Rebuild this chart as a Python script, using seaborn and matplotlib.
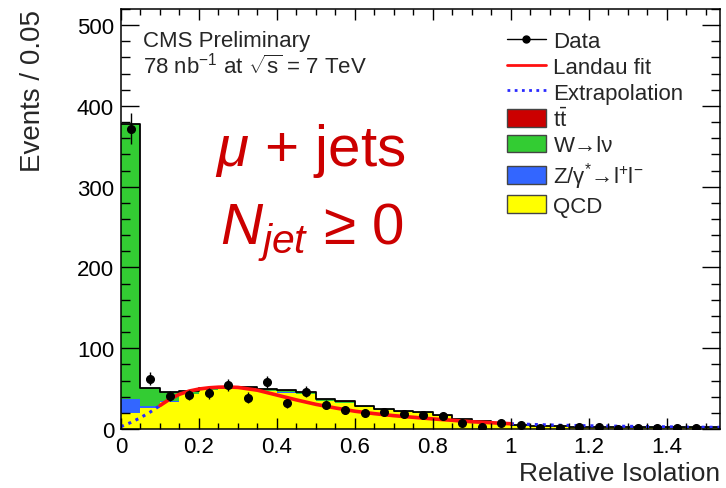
import numpy as np
import pandas as pd
import matplotlib
matplotlib.use("Agg")
import matplotlib.pyplot as plt
import seaborn as sns
from matplotlib.lines import Line2D
from matplotlib.patches import Patch
from matplotlib.ticker import MultipleLocator

# ---------------- data ----------------
bin_width = 0.05
bin_lo = [round(0.05 * i, 2) for i in range(31)]          # 0.00 ... 1.50
qcd = [20, 26, 33.5, 43, 48, 49, 49, 47, 45, 43, 35, 32, 27, 23, 20.5, 19.5,
       15.5, 10.8, 8.8, 7, 4, 3.3, 3.3, 2.4, 2.5, 2.5, 1.6, 1.6, 1.6, 1.6, 1.6]
zjets = [17, 2, 1, 0.5, 0.5, 0.3, 0.3, 0.3, 0.3, 0.3, 0.2, 0.2, 0.2, 0.2, 0.2, 0.2,
         0.2, 0.1, 0.1, 0.1, 0.1, 0.1, 0.1, 0.1, 0, 0, 0, 0, 0, 0, 0]
wjets = [341, 23, 11, 3, 2, 2, 2, 2, 2, 2, 1.5, 1.5, 1.5, 1.5, 1, 1, 1, 1, 1, 0.8,
         0.8, 0.6, 0.6, 0.5, 0.5, 0.5, 0.4, 0.4, 0.4, 0.4, 0.4]
ttbar = [0, 0, 0.2, 0.3, 0.4, 0.5, 0.5, 0.5, 0.5, 0.5, 0.4, 0.4, 0.3, 0.3, 0.3, 0.2,
         0.2, 0.1, 0.1, 0.1, 0.1, 0, 0, 0, 0, 0, 0, 0, 0, 0, 0]

data_x = [0.025, 0.075, 0.125, 0.175, 0.225, 0.275, 0.325, 0.375, 0.425, 0.475,
          0.525, 0.575, 0.625, 0.675, 0.725, 0.775, 0.825, 0.875, 0.925, 0.975,
          1.025, 1.075, 1.125, 1.175, 1.225, 1.275, 1.325, 1.375, 1.425, 1.475]
data_y = [372, 62, 41, 42, 44, 55, 39, 58, 32, 46, 30, 23, 20, 21, 18, 17, 16, 8,
          3, 8, 5, 1, 1, 2, 2, 0.5, 1, 1, 1.5, 1]
data_err = [19, 8, 6.4, 6.5, 6.6, 7.4, 6.2, 7.6, 5.7, 6.8, 5.5, 4.8, 4.5, 4.6, 4.2,
            4.1, 4, 2.8, 1.7, 2.8, 2.2, 1, 1, 1.4, 1.4, 0.7, 1, 1, 1.2, 1]

fit_x = [0.10, 0.125, 0.15, 0.175, 0.20, 0.225, 0.25, 0.275, 0.30, 0.35, 0.40, 0.45,
         0.50, 0.55, 0.60, 0.65, 0.70, 0.80, 0.90, 1.00]
fit_y = [29, 37, 43, 47, 49.5, 51, 51.8, 52, 51.5, 48, 42, 36, 30.5, 26, 22, 19,
         16.5, 12.5, 9, 6.5]
ext_lo_x = [0.0, 0.025, 0.05, 0.075, 0.10]
ext_lo_y = [3, 8, 14, 21, 29]
ext_hi_x = [1.0, 1.1, 1.2, 1.3, 1.4, 1.5, 1.54]
ext_hi_y = [6.5, 5, 4, 3.3, 2.7, 2.2, 2.1]

xtick_vals = [0, 0.2, 0.4, 0.6, 0.8, 1.0, 1.2, 1.4]
xtick_labels = ["0", "0.2", "0.4", "0.6", "0.8", "1", "1.2", "1.4"]
ytick_vals = [0, 100, 200, 300, 400, 500]

# ---------------- styling ----------------
sns.set_style("ticks")
plt.rcParams["font.family"] = ["Liberation Sans", "DejaVu Sans"]
plt.rcParams["mathtext.fontset"] = "custom"
plt.rcParams["mathtext.rm"] = "Liberation Sans"
plt.rcParams["mathtext.it"] = "Liberation Sans:italic"
plt.rcParams["mathtext.bf"] = "Liberation Sans:bold"
plt.rcParams["mathtext.sf"] = "Liberation Sans"

c_qcd, c_z, c_w, c_tt = "#ffff00", "#3366ff", "#33cc33", "#cc0000"

fig = plt.figure(figsize=(7.26, 4.89), dpi=100)
ax = fig.add_axes([121 / 726, 1 - 430 / 489, 599 / 726, 420 / 489])

# stacked MC histogram
rows = []
for name, vals in [("tt", ttbar), ("W", wjets), ("Z", zjets), ("QCD", qcd)]:
    for lo, v in zip(bin_lo, vals):
        rows.append({"x": lo + bin_width / 2, "w": v, "comp": name})
df = pd.DataFrame(rows)
edges = [round(0.05 * i, 2) for i in range(32)]
sns.histplot(data=df, x="x", weights="w", hue="comp",
             hue_order=["tt", "W", "Z", "QCD"], multiple="stack", bins=edges,
             element="bars", palette={"tt": c_tt, "W": c_w, "Z": c_z, "QCD": c_qcd},
             alpha=1, linewidth=0, legend=False, ax=ax)
# outline of total
tot = pd.DataFrame({"x": [lo + bin_width / 2 for lo in bin_lo],
                    "w": [a + b + c + d for a, b, c, d in zip(qcd, zjets, wjets, ttbar)]})
sns.histplot(data=tot, x="x", weights="w", bins=edges, element="step", fill=False,
             color="black", linewidth=1.3, ax=ax)

# fit and extrapolation
sns.lineplot(x=ext_lo_x, y=ext_lo_y, color="#2a2aff", linestyle=(0, (1, 1.6)),
             linewidth=2.2, ax=ax)
sns.lineplot(x=ext_hi_x, y=ext_hi_y, color="#2a2aff", linestyle=(0, (1, 1.6)),
             linewidth=2.2, ax=ax)
sns.lineplot(x=fit_x, y=fit_y, color="#ff1010", linewidth=2.6, ax=ax)

# data points
ax.errorbar(data_x, data_y, yerr=data_err, fmt="o", color="black", markersize=5.5,
            elinewidth=1.0, capsize=0, zorder=5)

# axes
ax.set_xlim(0, 1.536)
ax.set_ylim(0, 520)
ax.set_xticks(xtick_vals)
ax.set_xticklabels(xtick_labels)
ax.set_yticks(ytick_vals)
ax.xaxis.set_minor_locator(MultipleLocator(0.05))
ax.yaxis.set_minor_locator(MultipleLocator(20))
ax.tick_params(axis="both", which="both", direction="in", top=True, right=True,
               labelsize=16, width=1.0, colors="black", zorder=10)
ax.tick_params(axis="x", which="major", length=8, pad=5)
ax.tick_params(axis="x", which="minor", length=4)
ax.tick_params(axis="y", which="major", length=13, pad=5)
ax.tick_params(axis="y", which="minor", length=6.5)
for s in ax.spines.values():
    s.set_linewidth(1.1)
    s.set_color("black")
ax.set_axisbelow(False)
ax.set_xlabel("Relative Isolation", fontsize=19, loc="right", labelpad=3)
ax.set_ylabel("Events / 0.05", fontsize=20, loc="top", labelpad=22)

# texts
ax.text(0.037, 0.925, "CMS Preliminary", transform=ax.transAxes, fontsize=16,
        va="center", ha="left")
ax.text(0.037, 0.866, r"78 nb$^{-1}$ at $\sqrt{\mathrm{s}}$ = 7 TeV", transform=ax.transAxes,
        fontsize=16, va="center", ha="left")
ax.text(0.316, 0.665, r"$\mu$ + jets", transform=ax.transAxes, fontsize=42,
        color="#cc0000", ha="center", va="center")
ax.text(0.318, 0.47, r"$N_{jet}$ ≥ 0", transform=ax.transAxes, fontsize=42,
        color="#cc0000", ha="center", va="center")

# legend
handles = [
    Line2D([0], [0], color="black", marker="o", markersize=5, linewidth=1),
    Line2D([0], [0], color="#ff1010", linewidth=2),
    Line2D([0], [0], color="#2a2aff", linewidth=2, linestyle=(0, (1, 1.6))),
    Patch(facecolor=c_tt, edgecolor="#444444"),
    Patch(facecolor=c_w, edgecolor="#444444"),
    Patch(facecolor=c_z, edgecolor="#444444"),
    Patch(facecolor=c_qcd, edgecolor="#444444"),
]
labels = ["Data", "Landau fit", "Extrapolation", r"t$\bar{\mathrm{t}}$",
          "W→lν", r"Z/γ$^{*}$→l$^{+}$l$^{-}$", "QCD"]
ax.legend(handles, labels, loc="upper left", bbox_to_anchor=(0.644, 0.948),
          frameon=False, fontsize=16, handlelength=1.75, handleheight=0.85,
          handletextpad=0.35, labelspacing=0.18, borderaxespad=0, borderpad=0)

fig.savefig("out.png", dpi=100, facecolor="white")
